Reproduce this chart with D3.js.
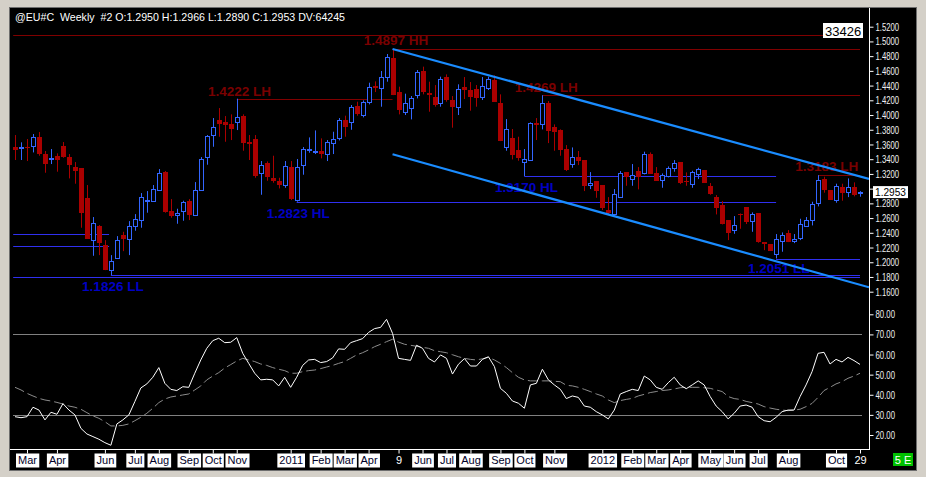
<!DOCTYPE html>
<html>
<head>
<meta charset="utf-8">
<script src="https://cdn.jsdelivr.net/npm/d3@7"></script>
<style>
  body { margin: 0; background: #d4d0c8; }
  svg { display: block; }
  text { font-family: Arial, "Liberation Sans", sans-serif; }
</style>
</head>
<body>
<div id="chart"></div>
<script>
// weekly EUR/USD bars, Feb 15 2010 .. Oct 29 2012
const opens = [1.3565,1.3540,1.3560,1.3570,1.3701,1.3470,1.3410,1.3438,1.3578,1.3429,1.3293,1.3280,1.2872,1.2292,1.2491,1.2233,1.1884,1.2061,1.2369,1.2306,
  1.2482,1.2564,1.2845,1.2822,1.2985,1.3221,1.2695,1.2636,1.2686,1.2831,1.2632,1.2971,1.3420,1.3719,1.3932,1.3900,1.3878,1.3900,1.3986,1.3628,
  1.3674,1.3207,1.3352,1.3144,1.3107,1.3039,1.3293,1.2836,1.3316,1.3538,1.3510,1.3510,1.3465,1.3624,1.3678,1.3927,1.3909,1.4122,1.3991,1.4172,
  1.4394,1.4362,1.4512,1.4770,1.4308,1.4032,1.4090,1.4262,1.4593,1.4299,1.4240,1.4159,1.4512,1.4199,1.4099,1.4380,1.4335,1.4353,1.4249,1.4371,
  1.4475,1.4163,1.3570,1.3687,1.3524,1.3366,1.3393,1.3891,1.3873,1.4163,1.3832,1.3796,1.3538,1.3325,1.3429,1.3388,1.3039,1.3103,1.3044,1.2709,
  1.2645,1.2890,1.3225,1.3121,1.3239,1.3207,1.3470,1.3212,1.3112,1.3175,1.3275,1.3361,1.3107,1.3067,1.3194,1.3252,1.3030,1.2881,1.2777,1.2573,
  1.2428,1.2654,1.2750,1.2550,1.2663,1.2274,1.2247,1.2115,1.2292,1.2396,1.2279,1.2319,1.2491,1.2568,1.2795,1.3135,1.2981,1.2840,1.3021,1.2945,
  1.3021,1.2950];
const highs = [1.3728,1.3629,1.3674,1.3742,1.3769,1.3511,1.3538,1.3479,1.3633,1.3470,1.3361,1.3280,1.3049,1.2614,1.2505,1.2301,1.2097,1.2355,1.2414,1.2559,
  1.2654,1.2940,1.2967,1.3049,1.3266,1.3239,1.2858,1.2727,1.2836,1.2858,1.3089,1.3429,1.3728,1.3959,1.4095,1.3986,1.4009,1.4222,1.4009,1.3728,
  1.3728,1.3375,1.3370,1.3447,1.3148,1.3375,1.3375,1.3402,1.3565,1.3696,1.3791,1.3683,1.3660,1.3773,1.3959,1.3991,1.4136,1.4181,1.4199,1.4439,
  1.4457,1.4598,1.4829,1.4897,1.4385,1.4290,1.4258,1.4611,1.4657,1.4453,1.4407,1.4521,1.4552,1.4258,1.4417,1.4516,1.4448,1.4407,1.4516,1.4521,
  1.4539,1.4281,1.3945,1.3810,1.3705,1.3538,1.3900,1.3959,1.4269,1.4190,1.3873,1.3805,1.3592,1.3560,1.3511,1.3388,1.3225,1.3103,1.3044,1.2885,
  1.2994,1.3239,1.3225,1.3334,1.3293,1.3502,1.3492,1.3293,1.3207,1.3302,1.3388,1.3361,1.3221,1.3243,1.3284,1.3252,1.3076,1.2913,1.2831,1.2573,
  1.2627,1.2663,1.2750,1.2677,1.2663,1.2274,1.2247,1.2383,1.2405,1.2437,1.2383,1.2591,1.2614,1.2822,1.3183,1.3162,1.2981,1.3067,1.3067,1.3139,
  1.3085,1.2966];
const lows = [1.3389,1.3389,1.3375,1.3492,1.3447,1.3216,1.3334,1.3230,1.3420,1.3139,1.3067,1.2469,1.2319,1.2088,1.2097,1.1893,1.1826,1.2061,1.2151,1.2097,
  1.2428,1.2469,1.2673,1.2822,1.2985,1.2673,1.2605,1.2523,1.2564,1.2573,1.2632,1.2971,1.3325,1.3569,1.3705,1.3637,1.3660,1.3796,1.3515,1.3389,
  1.3148,1.2917,1.3107,1.3080,1.3003,1.3012,1.2845,1.2823,1.3189,1.3488,1.3470,1.3411,1.3375,1.3470,1.3656,1.3705,1.3800,1.3991,1.3968,1.4145,
  1.4312,1.4113,1.4453,1.4271,1.4009,1.4000,1.3941,1.4226,1.4281,1.4045,1.4113,1.4113,1.4181,1.3828,1.4000,1.4217,1.4059,1.4113,1.4204,1.4340,
  1.4181,1.3646,1.3515,1.3397,1.3379,1.3170,1.3393,1.3660,1.3805,1.3619,1.3515,1.3447,1.3239,1.3284,1.3320,1.2967,1.2994,1.2876,1.2709,1.2641,
  1.2645,1.2890,1.3039,1.3039,1.2990,1.3194,1.3202,1.3108,1.3012,1.3153,1.3230,1.3062,1.3039,1.3012,1.3130,1.3080,1.2917,1.2650,1.2514,1.2301,
  1.2387,1.2455,1.2519,1.2414,1.2265,1.2165,1.2156,1.2051,1.2143,1.2274,1.2260,1.2301,1.2487,1.2500,1.2759,1.2945,1.2849,1.2809,1.2836,1.2885,
  1.2895,1.2890];
const closes = [1.3529,1.3560,1.3550,1.3696,1.3474,1.3338,1.3420,1.3388,1.3429,1.3325,1.3243,1.2673,1.2319,1.2528,1.2265,1.1893,1.2011,1.2301,1.2319,1.2487,
  1.2582,1.2881,1.2850,1.2990,1.3212,1.2673,1.2627,1.2664,1.2813,1.2645,1.2976,1.3397,1.3710,1.3832,1.3882,1.3855,1.3814,1.3973,1.3624,1.3601,
  1.3171,1.3316,1.3162,1.3103,1.3053,1.3302,1.2858,1.3289,1.3533,1.3544,1.3515,1.3470,1.3628,1.3678,1.3927,1.3828,1.4109,1.4009,1.4172,1.4376,
  1.4371,1.4512,1.4784,1.4271,1.4063,1.4158,1.4226,1.4580,1.4308,1.4276,1.4136,1.4485,1.4204,1.4099,1.4349,1.4344,1.4245,1.4236,1.4394,1.4489,
  1.4181,1.3646,1.3810,1.3461,1.3411,1.3402,1.3891,1.3869,1.4159,1.3787,1.3760,1.3524,1.3252,1.3425,1.3375,1.3035,1.3071,1.2972,1.2727,1.2673,
  1.2922,1.3212,1.3162,1.3180,1.3162,1.3470,1.3202,1.3108,1.3180,1.3280,1.3343,1.3080,1.3089,1.3225,1.3261,1.3080,1.2917,1.2727,1.2514,1.2392,
  1.2501,1.2636,1.2541,1.2650,1.2265,1.2242,1.2156,1.2315,1.2369,1.2274,1.2310,1.2514,1.2568,1.2786,1.3112,1.2981,1.2849,1.3030,1.2945,1.3017,
  1.2913,1.2953];

// oscillator (white) and its average (grey dashes)
const rsi = [29.1,28.6,29.1,33.8,32.4,27.5,31.3,30.3,35.6,32.4,30.0,23.3,20.5,19.2,17.9,16.2,14.9,25.5,27.5,30.0,
  36.6,43.4,45.4,48.7,53.5,45.7,42.7,42.1,44.0,43.7,50.7,57.3,63.1,66.9,68.1,65.9,66.1,68.4,60.6,55.6,
  50.7,47.4,47.7,47.4,44.4,48.7,43.7,48.7,54.6,57.3,57.6,56.0,56.5,58.3,62.8,62.6,65.9,66.9,67.9,71.0,
  72.9,73.5,77.5,70.5,58.1,57.6,57.1,64.6,63.1,58.1,56.3,59.8,58.1,50.3,55.2,58.0,54.3,54.3,57.6,58.9,
  54.0,43.2,40.7,36.9,35.8,33.3,44.9,45.7,52.7,47.4,44.9,42.7,38.1,39.4,38.7,34.4,33.8,31.6,30.0,28.0,
  32.4,40.4,41.6,42.7,42.1,49.3,47.4,43.7,42.7,46.0,48.7,44.9,43.0,44.9,46.9,44.9,39.1,34.4,31.6,28.0,
  30.8,34.4,34.9,33.8,29.1,27.1,26.6,28.8,31.6,32.4,32.4,39.1,44.9,51.5,60.6,61.1,55.3,57.6,56.3,58.6,
  57.0,55.1];
const rsiAvg = [43.7,42.4,40.7,39.4,38.2,37.4,36.9,36.2,35.4,34.4,33.8,32.8,31.1,29.5,28.3,26.6,24.5,24.5,24.8,25.5,
  27.1,28.8,30.8,33.3,36.1,37.9,38.9,39.4,39.9,40.4,42.4,44.4,47.4,49.3,51.0,53.3,55.0,56.8,58.1,57.3,
  56.5,55.3,54.6,53.5,52.7,52.0,50.7,50.7,51.5,52.0,52.3,53.0,53.8,54.6,55.6,56.5,58.1,59.8,60.9,62.3,
  63.9,65.1,66.4,67.6,66.2,65.1,64.6,64.1,63.6,63.1,61.9,61.4,60.9,59.9,58.9,58.1,57.6,57.3,57.9,58.6,
  57.3,55.6,53.5,51.0,48.7,47.4,46.9,46.9,46.9,46.9,46.7,46.5,44.7,44.4,43.7,42.7,41.6,40.4,39.4,37.4,
  36.1,37.1,37.7,38.2,39.4,40.2,41.1,41.6,42.1,42.4,42.9,43.5,43.7,43.7,43.7,43.5,43.2,42.4,41.6,39.1,
  38.1,37.7,36.7,36.1,35.4,34.1,33.4,32.8,32.4,32.1,32.4,32.8,34.1,35.7,38.7,42.1,43.7,45.4,46.5,48.2,
  49.3,50.7];

// horizontal swing levels: price, first bar, last bar, kind
const levelPrice = [1.5087, 1.4897, 1.4222, 1.4269, 1.3183, 1.3170, 1.2823, 1.2380, 1.2217, 1.2051, 1.1826, 1.1796];
const levelFrom  = [-0.3, 63, 37, 88, 134, 85, 47, -0.3, -0.3, 127, 16, -0.3];
const levelTo    = [141, 141, 63, 141, 141, 127, 127, 15.7, 15.7, 141, 141, 141];
const levelKind  = ["hi","hi","hi","hi","hi","lo","lo","lo","lo","lo","lo","lo"];

const noteText  = ["1.4897 HH","1.4222 LH","1.4269 LH","1.3183 LH","1.3170 HL","1.2823 HL","1.1826 LL","1.2051 LL"];
const noteBar   = [58.2, 32.2, 83.4, 130.2, 80.1, 42.0, 11.2, 122.3];
const notePrice = [1.4951, 1.4259, 1.4313, 1.3240, 1.2954, 1.2601, 1.1610, 1.1854];
const noteKind  = ["hi","hi","hi","hi","lo","lo","lo","lo"];

// down-sloping channel (bar, price)
const channelUpper = [[63, 1.4897], [142.5, 1.3131]];
const channelLower = [[63, 1.3467], [142.5, 1.1660]];

const priceTicks = [1.16,1.18,1.20,1.22,1.24,1.26,1.28,1.30,1.32,1.34,1.36,1.38,1.40,1.42,1.44,1.46,1.48,1.50,1.52];
const rsiTicks = [20,30,40,50,60,70,80];
const dateTickBar  = [2,7,15,20,24,29,33,37,46,51,55,59,64,68,72,76,81,85,90,98,103,107,111,116,120,124,129,137,141];
const dateTickText = ["Mar","Apr","Jun","Jul","Aug","Sep","Oct","Nov","2011","Feb","Mar","Apr","9","Jun","Jul","Aug",
  "Sep","Oct","Nov","2012","Feb","Mar","Apr","May","Jun","Jul","Aug","Oct","29"];


const width = 926;
const height = 477;
const axisX = 869;
const upColor = "#3366ff", downColor = "#aa0000";
const hiColor = "#800000", loColor = "#3030f0";

const svg = d3.select("#chart")
    .append("svg")
    .attr("width", width)
    .attr("height", height);

// window frame + black chart area
svg.append("rect").attr("width", width).attr("height", height).attr("fill", "#d4d0c8");
svg.append("rect").attr("x", 9.5).attr("y", 7.5).attr("width", 907).attr("height", 463)
    .attr("fill", "#000").attr("stroke", "#6e6e6e");

const defs = svg.append("defs");
defs.append("clipPath").attr("id", "clipPrice")
    .append("rect").attr("x", 10).attr("y", 8).attr("width", axisX - 10).attr("height", 292);
defs.append("clipPath").attr("id", "clipRsi")
    .append("rect").attr("x", 10).attr("y", 300).attr("width", axisX - 10).attr("height", 149);

const x = d3.scaleLinear().domain([0, 141]).range([15, 860]);
const y = d3.scaleLinear().domain([1.16, 1.52]).range([291.7, 26.7]);
const yR = d3.scaleLinear().domain([20, 80]).range([435, 314.3]);

const bars = closes.map((c, i) => ({i: i, o: opens[i], h: highs[i], l: lows[i], c: c}));
const px = i => Math.round(x(i));
const lastClose = closes[closes.length - 1];

// ---- price pane ----
const pane = svg.append("g").attr("clip-path", "url(#clipPrice)");

levelPrice.forEach(function(p, k) {
    pane.append("line")
        .attr("x1", x(levelFrom[k])).attr("x2", x(levelTo[k]))
        .attr("y1", Math.round(y(p)) + 0.5).attr("y2", Math.round(y(p)) + 0.5)
        .attr("stroke", levelKind[k] == "hi" ? hiColor : loColor)
        .attr("stroke-width", 1);
});

noteText.forEach(function(t, k) {
    pane.append("text")
        .attr("x", x(noteBar[k]))
        .attr("y", y(notePrice[k]))
        .attr("font-size", "13.5px")
        .attr("font-weight", "bold")
        .attr("fill", noteKind[k] == "hi" ? "#7a0000" : "#0000c4")
        .text(t);
});

// wicks
pane.selectAll("line.wick")
    .data(bars)
    .enter()
    .append("line")
    .attr("class", "wick")
    .attr("x1", d => px(d.i) + 0.5).attr("x2", d => px(d.i) + 0.5)
    .attr("y1", d => y(d.h)).attr("y2", d => y(d.l))
    .attr("stroke", d => d.c >= d.o ? upColor : downColor);

// bodies: hollow blue up, filled red down
pane.selectAll("rect.body")
    .data(bars)
    .enter()
    .append("rect")
    .attr("class", "body")
    .attr("x", d => d.c >= d.o ? px(d.i) - 1.5 : px(d.i) - 2)
    .attr("width", d => d.c >= d.o ? 4 : 5)
    .attr("y", d => {
        const top = Math.round(y(Math.max(d.o, d.c)));
        return d.c >= d.o ? top + 0.5 : top;
    })
    .attr("height", d => Math.max(1, Math.round(Math.abs(y(d.o) - y(d.c)))))
    .attr("fill", d => d.c >= d.o ? "#000" : downColor)
    .attr("stroke", d => d.c >= d.o ? upColor : "none");

// channel lines
[channelUpper, channelLower].forEach(function(ch) {
    pane.append("line")
        .attr("x1", x(ch[0][0])).attr("y1", y(ch[0][1]))
        .attr("x2", x(ch[1][0])).attr("y2", y(ch[1][1]))
        .attr("stroke", "#1a8cff")
        .attr("stroke-width", 2.2);
});

// ---- oscillator pane ----
const rsiPane = svg.append("g").attr("clip-path", "url(#clipRsi)");

[70, 30].forEach(function(v) {
    rsiPane.append("line")
        .attr("x1", 13).attr("x2", 862)
        .attr("y1", Math.round(yR(v)) + 0.5).attr("y2", Math.round(yR(v)) + 0.5)
        .attr("stroke", "#808080");
});

rsiPane.append("path")
    .datum(rsiAvg)
    .attr("fill", "none")
    .attr("stroke", "#8c8c8c")
    .attr("stroke-width", 1)
    .attr("stroke-dasharray", "10,4")
    .attr("d", d3.line().x((d, i) => x(i)).y(d => yR(d)));

rsiPane.append("path")
    .datum(rsi)
    .attr("fill", "none")
    .attr("stroke", "#ffffff")
    .attr("stroke-width", 1)
    .attr("d", d3.line().x((d, i) => x(i)).y(d => yR(d)));

// ---- axes ----
svg.append("line")
    .attr("x1", axisX + 0.5).attr("x2", axisX + 0.5)
    .attr("y1", 8).attr("y2", 449.5)
    .attr("stroke", "#fff");
svg.append("line")
    .attr("x1", 10).attr("x2", axisX + 1)
    .attr("y1", 449.5).attr("y2", 449.5)
    .attr("stroke", "#fff");

const priceAxis = svg.append("g")
    .attr("class", "axis")
    .attr("transform", `translate(${axisX + 0.5},0)`)
    .call(d3.axisRight(y).tickValues(priceTicks).tickFormat(d3.format(".4f")).tickSize(4).tickSizeOuter(0).tickPadding(2));

const rsiAxis = svg.append("g")
    .attr("class", "axis")
    .attr("transform", `translate(${axisX + 0.5},0)`)
    .call(d3.axisRight(yR).tickValues(rsiTicks).tickFormat(d3.format(".2f")).tickSize(4).tickSizeOuter(0).tickPadding(2));

[priceAxis, rsiAxis].forEach(function(ax) {
    ax.select(".domain").remove();
    ax.selectAll(".tick line").attr("stroke", "#fff");
    ax.selectAll(".tick text")
        .attr("fill", "#f0f0f0")
        .attr("font-size", "11px")
        .attr("font-family", "Arial, 'Liberation Sans', sans-serif")
        .attr("textLength", function() { return this.textContent.length * 4.1 - 1; })
        .attr("lengthAdjust", "spacingAndGlyphs");
});

// the last-price flag covers the tick label it sits on
priceAxis.selectAll(".tick")
    .filter(d => Math.abs(y(d) - y(lastClose)) < 7)
    .select("text").remove();

const dateAxis = svg.append("g")
    .attr("class", "axis")
    .attr("transform", "translate(0,449.5)")
    .call(d3.axisBottom(x).tickValues(dateTickBar)
        .tickFormat((d, k) => dateTickText[k]).tickSize(4).tickSizeOuter(0).tickPadding(3));
dateAxis.select(".domain").remove();
dateAxis.selectAll(".tick line").attr("stroke", "#fff");
dateAxis.selectAll(".tick text")
    .attr("font-size", "11px")
    .attr("font-family", "Arial, 'Liberation Sans', sans-serif")
    .attr("fill", function() { return isNaN(+this.textContent) || this.textContent.length == 4 ? "#000028" : "#fff"; });
dateAxis.selectAll(".tick").each(function() {
    const t = d3.select(this).select("text");
    const label = t.text();
    if (!isNaN(+label) && label.length < 4) return;
    const b = t.node().getBBox();
    d3.select(this).insert("rect", "text")
        .attr("x", b.x - 2).attr("y", 4)
        .attr("width", b.width + 4).attr("height", 14)
        .attr("fill", "#fff");
});

// header line
svg.append("text")
    .attr("x", 15).attr("y", 21)
    .attr("fill", "#fff")
    .attr("font-size", "11px")
    .style("white-space", "pre")
    .attr("textLength", 330)
    .attr("lengthAdjust", "spacingAndGlyphs")
    .text("@EU#C  Weekly  #2 O:1.2950 H:1.2966 L:1.2890 C:1.2953 DV:64245");

// last price flag
const lastY = y(lastClose);
svg.append("rect")
    .attr("x", 873).attr("y", lastY - 6)
    .attr("width", 35).attr("height", 12)
    .attr("fill", "#fff");
svg.append("text")
    .attr("x", 875).attr("y", lastY + 4)
    .attr("fill", "#000")
    .attr("font-size", "11.5px")
    .attr("textLength", 31)
    .attr("lengthAdjust", "spacingAndGlyphs")
    .text("1.2953");

// indicator value box
svg.append("rect")
    .attr("x", 823).attr("y", 23)
    .attr("width", 40).attr("height", 15)
    .attr("fill", "#fff");
svg.append("text")
    .attr("x", 825).attr("y", 35.5)
    .attr("fill", "#000")
    .attr("font-size", "13px")
    .text("33426");

// status box
svg.append("rect")
    .attr("x", 893).attr("y", 453)
    .attr("width", 20).attr("height", 13)
    .attr("fill", "#00c000");
svg.append("text")
    .attr("x", 903).attr("y", 463.5)
    .attr("text-anchor", "middle")
    .attr("fill", "#fff")
    .attr("font-size", "11px")
    .style("white-space", "pre")
    .text("5 E");
</script>
</body>
</html>
